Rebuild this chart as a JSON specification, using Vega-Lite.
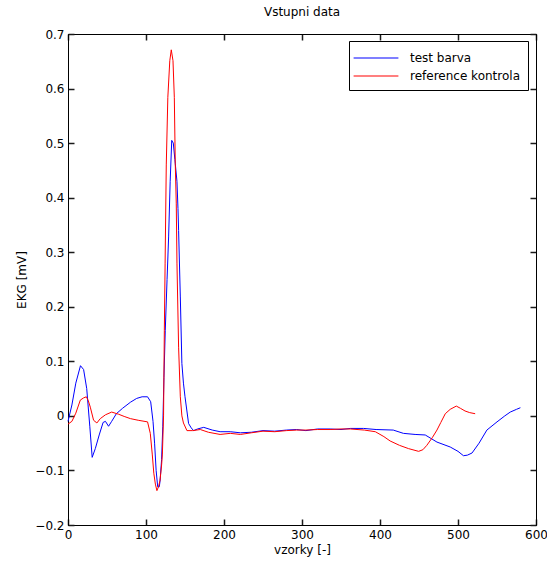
{
  "$schema": "https://vega.github.io/schema/vega-lite/v6.json",
  "autosize": {"type": "none"},
  "padding": {"left": 68, "top": 34, "right": 11, "bottom": 42},
  "width": 468,
  "height": 491,
  "background": "white",
  "title": {"text": "Vstupni data", "font": "DejaVu Sans", "fontSize": 12, "fontWeight": "normal", "color": "black", "offset": 9},
  "config": {
    "view": {"stroke": "black", "strokeWidth": 1},
    "axis": {"grid": false, "labelFlush": false, "domain": true, "domainColor": "black", "ticks": true, "tickSize": -6, "tickWidth": 1.5, "tickColor": "#1a1a1a", "zindex": 2, "labelPadding": 10, "labelColor": "black", "labelFont": "DejaVu Sans", "labelFontSize": 12, "titleFont": "DejaVu Sans", "titleFontSize": 12, "titleFontWeight": "normal", "titleColor": "black"}
  },
  "datasets": {
    "ekg": [
      {"s": "test barva", "x": 0, "y": -0.01},
      {"s": "test barva", "x": 5, "y": 0.02},
      {"s": "test barva", "x": 10, "y": 0.06},
      {"s": "test barva", "x": 16, "y": 0.092},
      {"s": "test barva", "x": 20, "y": 0.085},
      {"s": "test barva", "x": 24, "y": 0.05},
      {"s": "test barva", "x": 28, "y": -0.02},
      {"s": "test barva", "x": 31, "y": -0.076},
      {"s": "test barva", "x": 35, "y": -0.06},
      {"s": "test barva", "x": 40, "y": -0.035},
      {"s": "test barva", "x": 45, "y": -0.012},
      {"s": "test barva", "x": 48, "y": -0.01},
      {"s": "test barva", "x": 52, "y": -0.019},
      {"s": "test barva", "x": 56, "y": -0.01},
      {"s": "test barva", "x": 62, "y": 0.004},
      {"s": "test barva", "x": 70, "y": 0.014},
      {"s": "test barva", "x": 80, "y": 0.025},
      {"s": "test barva", "x": 88, "y": 0.032},
      {"s": "test barva", "x": 95, "y": 0.035},
      {"s": "test barva", "x": 102, "y": 0.035},
      {"s": "test barva", "x": 106, "y": 0.026},
      {"s": "test barva", "x": 109, "y": -0.01},
      {"s": "test barva", "x": 111, "y": -0.05},
      {"s": "test barva", "x": 113, "y": -0.1},
      {"s": "test barva", "x": 115, "y": -0.13},
      {"s": "test barva", "x": 117, "y": -0.13},
      {"s": "test barva", "x": 118, "y": -0.12},
      {"s": "test barva", "x": 120, "y": -0.08},
      {"s": "test barva", "x": 121.5, "y": -0.02},
      {"s": "test barva", "x": 123, "y": 0.07},
      {"s": "test barva", "x": 124.7, "y": 0.157},
      {"s": "test barva", "x": 127, "y": 0.25},
      {"s": "test barva", "x": 129, "y": 0.328},
      {"s": "test barva", "x": 131, "y": 0.43},
      {"s": "test barva", "x": 133, "y": 0.505},
      {"s": "test barva", "x": 135, "y": 0.5},
      {"s": "test barva", "x": 137, "y": 0.47},
      {"s": "test barva", "x": 139.7, "y": 0.43},
      {"s": "test barva", "x": 141, "y": 0.38},
      {"s": "test barva", "x": 141.8, "y": 0.34},
      {"s": "test barva", "x": 144, "y": 0.218},
      {"s": "test barva", "x": 146, "y": 0.096},
      {"s": "test barva", "x": 148, "y": 0.06},
      {"s": "test barva", "x": 150, "y": 0.035},
      {"s": "test barva", "x": 154.6, "y": -0.014},
      {"s": "test barva", "x": 158, "y": -0.022},
      {"s": "test barva", "x": 161, "y": -0.027},
      {"s": "test barva", "x": 166, "y": -0.024},
      {"s": "test barva", "x": 174, "y": -0.021},
      {"s": "test barva", "x": 185, "y": -0.026},
      {"s": "test barva", "x": 195, "y": -0.029},
      {"s": "test barva", "x": 208, "y": -0.029},
      {"s": "test barva", "x": 221, "y": -0.031},
      {"s": "test barva", "x": 235, "y": -0.03},
      {"s": "test barva", "x": 250, "y": -0.027},
      {"s": "test barva", "x": 265, "y": -0.028},
      {"s": "test barva", "x": 280, "y": -0.026},
      {"s": "test barva", "x": 293, "y": -0.025},
      {"s": "test barva", "x": 305, "y": -0.027},
      {"s": "test barva", "x": 320, "y": -0.024},
      {"s": "test barva", "x": 336, "y": -0.024},
      {"s": "test barva", "x": 350, "y": -0.025},
      {"s": "test barva", "x": 362, "y": -0.023},
      {"s": "test barva", "x": 379, "y": -0.023},
      {"s": "test barva", "x": 395, "y": -0.025},
      {"s": "test barva", "x": 417, "y": -0.026},
      {"s": "test barva", "x": 430, "y": -0.032},
      {"s": "test barva", "x": 445, "y": -0.034},
      {"s": "test barva", "x": 458, "y": -0.035},
      {"s": "test barva", "x": 473, "y": -0.048},
      {"s": "test barva", "x": 490, "y": -0.057},
      {"s": "test barva", "x": 500, "y": -0.065},
      {"s": "test barva", "x": 507, "y": -0.073},
      {"s": "test barva", "x": 512, "y": -0.072},
      {"s": "test barva", "x": 518, "y": -0.068},
      {"s": "test barva", "x": 527, "y": -0.05},
      {"s": "test barva", "x": 537, "y": -0.026},
      {"s": "test barva", "x": 550, "y": -0.011},
      {"s": "test barva", "x": 560, "y": 0.0},
      {"s": "test barva", "x": 567, "y": 0.007},
      {"s": "test barva", "x": 575, "y": 0.012},
      {"s": "test barva", "x": 580, "y": 0.015},
      {"s": "reference kontrola", "x": 0, "y": -0.015},
      {"s": "reference kontrola", "x": 5, "y": -0.01},
      {"s": "reference kontrola", "x": 10, "y": 0.005},
      {"s": "reference kontrola", "x": 15.8, "y": 0.029},
      {"s": "reference kontrola", "x": 20, "y": 0.033},
      {"s": "reference kontrola", "x": 23.5, "y": 0.035},
      {"s": "reference kontrola", "x": 26, "y": 0.028},
      {"s": "reference kontrola", "x": 28.6, "y": 0.016},
      {"s": "reference kontrola", "x": 32.8, "y": -0.008},
      {"s": "reference kontrola", "x": 37, "y": -0.013},
      {"s": "reference kontrola", "x": 41.4, "y": -0.005},
      {"s": "reference kontrola", "x": 48, "y": 0.002},
      {"s": "reference kontrola", "x": 56, "y": 0.007},
      {"s": "reference kontrola", "x": 65, "y": 0.003},
      {"s": "reference kontrola", "x": 72, "y": -0.001},
      {"s": "reference kontrola", "x": 80, "y": -0.005},
      {"s": "reference kontrola", "x": 90, "y": -0.008},
      {"s": "reference kontrola", "x": 102, "y": -0.011},
      {"s": "reference kontrola", "x": 105.5, "y": -0.032},
      {"s": "reference kontrola", "x": 108, "y": -0.07},
      {"s": "reference kontrola", "x": 110, "y": -0.105},
      {"s": "reference kontrola", "x": 112, "y": -0.125},
      {"s": "reference kontrola", "x": 114, "y": -0.137},
      {"s": "reference kontrola", "x": 116, "y": -0.13},
      {"s": "reference kontrola", "x": 118, "y": -0.118},
      {"s": "reference kontrola", "x": 120, "y": -0.09},
      {"s": "reference kontrola", "x": 121, "y": -0.07},
      {"s": "reference kontrola", "x": 122.5, "y": 0.0},
      {"s": "reference kontrola", "x": 123.5, "y": 0.157},
      {"s": "reference kontrola", "x": 124.5, "y": 0.28},
      {"s": "reference kontrola", "x": 126, "y": 0.46},
      {"s": "reference kontrola", "x": 128, "y": 0.584},
      {"s": "reference kontrola", "x": 130.5, "y": 0.651},
      {"s": "reference kontrola", "x": 132.4, "y": 0.671},
      {"s": "reference kontrola", "x": 134.6, "y": 0.651},
      {"s": "reference kontrola", "x": 136.3, "y": 0.584},
      {"s": "reference kontrola", "x": 137.5, "y": 0.463},
      {"s": "reference kontrola", "x": 138.8, "y": 0.39},
      {"s": "reference kontrola", "x": 139.7, "y": 0.28},
      {"s": "reference kontrola", "x": 141.8, "y": 0.126},
      {"s": "reference kontrola", "x": 144, "y": 0.035},
      {"s": "reference kontrola", "x": 146, "y": 0.0},
      {"s": "reference kontrola", "x": 148, "y": -0.013},
      {"s": "reference kontrola", "x": 152.5, "y": -0.027},
      {"s": "reference kontrola", "x": 160, "y": -0.027},
      {"s": "reference kontrola", "x": 169.6, "y": -0.025},
      {"s": "reference kontrola", "x": 180, "y": -0.03},
      {"s": "reference kontrola", "x": 195, "y": -0.034},
      {"s": "reference kontrola", "x": 208, "y": -0.032},
      {"s": "reference kontrola", "x": 221, "y": -0.034},
      {"s": "reference kontrola", "x": 235, "y": -0.031},
      {"s": "reference kontrola", "x": 250, "y": -0.028},
      {"s": "reference kontrola", "x": 265, "y": -0.029},
      {"s": "reference kontrola", "x": 280, "y": -0.027},
      {"s": "reference kontrola", "x": 293, "y": -0.026},
      {"s": "reference kontrola", "x": 305, "y": -0.026},
      {"s": "reference kontrola", "x": 320, "y": -0.025},
      {"s": "reference kontrola", "x": 336, "y": -0.025},
      {"s": "reference kontrola", "x": 350, "y": -0.024},
      {"s": "reference kontrola", "x": 362, "y": -0.024},
      {"s": "reference kontrola", "x": 380, "y": -0.026},
      {"s": "reference kontrola", "x": 394, "y": -0.029},
      {"s": "reference kontrola", "x": 405, "y": -0.038},
      {"s": "reference kontrola", "x": 413, "y": -0.046},
      {"s": "reference kontrola", "x": 425, "y": -0.054},
      {"s": "reference kontrola", "x": 436.6, "y": -0.06},
      {"s": "reference kontrola", "x": 449.5, "y": -0.065},
      {"s": "reference kontrola", "x": 455, "y": -0.062},
      {"s": "reference kontrola", "x": 460, "y": -0.054},
      {"s": "reference kontrola", "x": 467, "y": -0.04},
      {"s": "reference kontrola", "x": 473, "y": -0.026},
      {"s": "reference kontrola", "x": 478, "y": -0.012},
      {"s": "reference kontrola", "x": 483.7, "y": 0.004},
      {"s": "reference kontrola", "x": 490, "y": 0.012},
      {"s": "reference kontrola", "x": 497.8, "y": 0.018},
      {"s": "reference kontrola", "x": 503, "y": 0.014},
      {"s": "reference kontrola", "x": 509, "y": 0.009},
      {"s": "reference kontrola", "x": 515, "y": 0.006},
      {"s": "reference kontrola", "x": 522, "y": 0.004}
    ]
  },
  "data": {"name": "ekg"},
  "layer": [
    {
      "mark": {"type": "line", "strokeWidth": 1, "interpolate": "linear"},
      "encoding": {
        "x": {"field": "x", "type": "quantitative", "scale": {"domain": [0, 600], "nice": false}, "axis": {"title": "vzorky [-]", "values": [0, 100, 200, 300, 400, 500, 600], "titlePadding": 4}},
        "y": {"field": "y", "type": "quantitative", "scale": {"domain": [-0.2, 0.7], "nice": false, "zero": false}, "axis": {"title": "EKG [mV]", "values": [-0.2, -0.1, 0, 0.1, 0.2, 0.3, 0.4, 0.5, 0.6, 0.7], "format": "~g", "titlePadding": 6}},
        "color": {"field": "s", "type": "nominal", "sort": ["test barva", "reference kontrola"], "scale": {"domain": ["test barva", "reference kontrola"], "range": ["#0000ff", "#ff0000"]},
          "legend": {"title": null, "orient": "none", "legendX": 281, "legendY": 7, "symbolType": "M-2.8,0H2.8", "symbolSize": 256, "symbolOffset": 10, "symbolStrokeWidth": 1.2, "labelFont": "DejaVu Sans", "labelFontSize": 12, "labelColor": "black", "labelOffset": 25, "padding": 8, "rowPadding": 3, "strokeColor": "black", "fillColor": "white", "cornerRadius": 0}},
        "detail": {"field": "s"}
      }
    },
    {
      "mark": {"type": "rule", "opacity": 0},
      "encoding": {
        "x": {"field": "x", "type": "quantitative", "aggregate": "min", "scale": {"domain": [0, 600], "nice": false}, "axis": {"orient": "top", "labels": false, "title": null, "values": [0, 100, 200, 300, 400, 500, 600]}},
        "y": {"field": "y", "type": "quantitative", "aggregate": "min", "scale": {"domain": [-0.2, 0.7], "nice": false, "zero": false}, "axis": {"orient": "right", "labels": false, "title": null, "values": [-0.2, -0.1, 0, 0.1, 0.2, 0.3, 0.4, 0.5, 0.6, 0.7]}}
      }
    }
  ],
  "resolve": {"axis": {"x": "independent", "y": "independent"}}
}
